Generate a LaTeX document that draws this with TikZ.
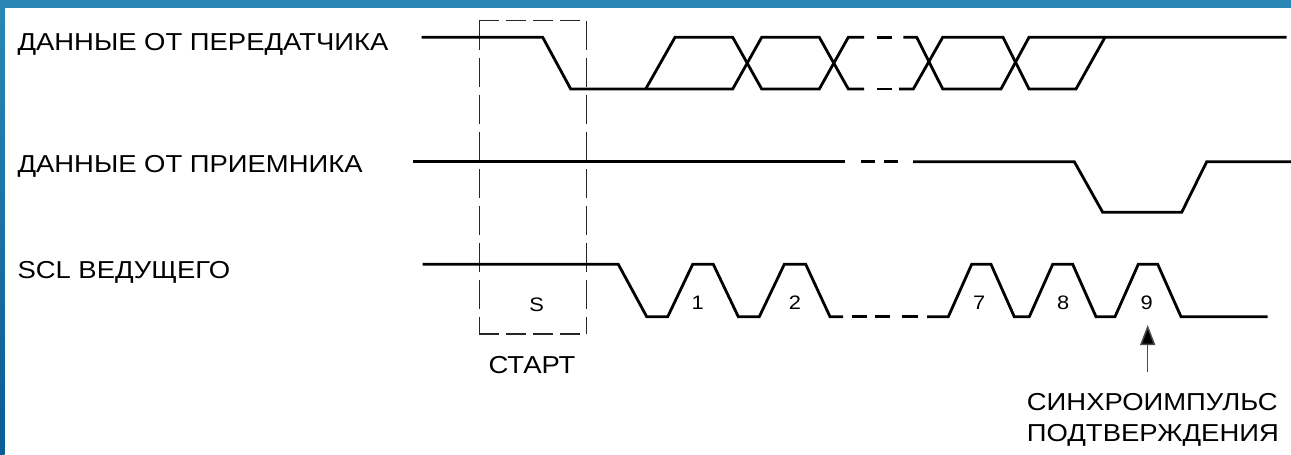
\documentclass[tikz,border=0pt]{standalone}
\usepackage{fontspec}
\setmainfont{Liberation Sans}
\newfontfamily\labfont[FakeStretch=1.12]{Liberation Sans}
\usetikzlibrary{arrows.meta}
\definecolor{barblue}{RGB}{42,135,181}
\definecolor{bardark}{RGB}{10,92,148}
\begin{document}
\begin{tikzpicture}[x=1pt,y=-1pt,
  wave/.style={line width=2.8pt, black, line join=miter},
  boxh/.style={line width=1.5pt, draw=black!85, dash pattern=on 20pt off 7pt},
  boxv/.style={line width=1.5pt, draw=black!85, dash pattern=on 29pt off 8pt},
  lab/.style={font=\labfont\fontsize{24.5}{29}\selectfont, inner sep=0pt, anchor=base west},
  num/.style={font=\labfont\fontsize{19.5}{23}\selectfont, inner sep=0pt, anchor=base},
  pointer/.style={line width=1.5pt, draw=black!70, -{Triangle[length=20pt,width=15pt,fill=black]}}
]
\useasboundingbox (0,0) rectangle (1291,455);
\fill[white] (0,0) rectangle (1291,455);
\fill[barblue] (0,0) rectangle (1291,7.5);
\shade[top color=barblue,bottom color=bardark] (0,0) rectangle (4.5,455);

% START box
\draw[boxh] (479.3,20.7) -- (586.7,20.7);
\draw[boxh] (479.3,334) -- (586.7,334);
\draw[boxv] (479.3,20.7) -- (479.3,334);
\draw[boxv] (586.7,20.7) -- (586.7,334);

% transmitter data
\draw[wave] (421.7,37.3) -- (542.7,37.3) -- (570.7,89) -- (732.7,89) -- (761.7,37.3) -- (819.3,37.3) -- (848.3,89) -- (864,89);
\draw[wave] (645.7,89) -- (675,37.3) -- (732.7,37.3) -- (761.7,89) -- (819.3,89) -- (848.3,37.3) -- (864,37.3);
\draw[wave] (876.6,37.3) -- (892,37.3);
\draw[wave] (877,89) -- (891.7,89);
\draw[wave] (903.3,37.3) -- (916.7,37.3) -- (942.7,89) -- (1001,89) -- (1029,37.3) -- (1286.7,37.3);
\draw[wave] (899,89) -- (913.3,89) -- (942.7,37.3) -- (1003,37.3) -- (1029,89) -- (1076,89) -- (1105,37.3);

% receiver data
\draw[wave] (413.3,161.7) -- (845,161.7);
\draw[wave] (861,161.7) -- (875,161.7);
\draw[wave] (884,161.7) -- (898,161.7);
\draw[wave] (913,161.7) -- (1074.3,161.7) -- (1102.7,212.3) -- (1181.7,212.3) -- (1206.7,161.7) -- (1291,161.7);

% SCL
\draw[wave] (422.7,264.3) -- (618.3,264.3) -- (646.7,316.7) -- (667.7,316.7) -- (692.7,264.3) -- (713.3,264.3) -- (738.3,316.7) -- (759.3,316.7) -- (784.3,264.3) -- (805.7,264.3) -- (830,316.7) -- (843,316.7);
\draw[wave] (851.7,316.7) -- (866.7,316.7);
\draw[wave] (875,316.7) -- (890,316.7);
\draw[wave] (902,316.7) -- (918,316.7);
\draw[wave] (927,316.7) -- (948.3,316.7) -- (971.7,264.3) -- (991,264.3) -- (1014.3,316.7) -- (1029.3,316.7) -- (1052.7,264.3) -- (1072.7,264.3) -- (1096,316.7) -- (1115,316.7) -- (1138.3,264.3) -- (1157.7,264.3) -- (1181,316.7) -- (1267.7,316.7);

% labels
\node[lab] (tx) at (17.3,50.7) {ДАННЫЕ ОТ ПЕРЕДАТЧИКА};
\node[lab] (rx) at (17.3,172.3) {ДАННЫЕ ОТ ПРИЕМНИКА};
\node[lab] (scl) at (17.3,278.3) {SCL ВЕДУЩЕГО};
\node[lab] (start) at (488.3,373.3) {СТАРТ};
\node[lab] (ack1) at (1026.7,410) {СИНХРОИМПУЛЬС};
\node[lab] (ack2) at (1026.7,441.5) {ПОДТВЕРЖДЕНИЯ};

\node[num] (s) at (536.7,311.7) {S};
\node[num] (n1) at (697.7,309) {1};
\node[num] (n2) at (795,309) {2};
\node[num] (n7) at (979.3,309) {7};
\node[num] (n8) at (1063.3,309) {8};
\node[num] (n9) at (1146.7,309) {9};

% acknowledge pointer
\coordinate (arrtail) at (1147.7,371.7);
\coordinate (arrtip) at (1147.7,325);
\draw[pointer] (arrtail) -- (arrtip);
\end{tikzpicture}
\end{document}
